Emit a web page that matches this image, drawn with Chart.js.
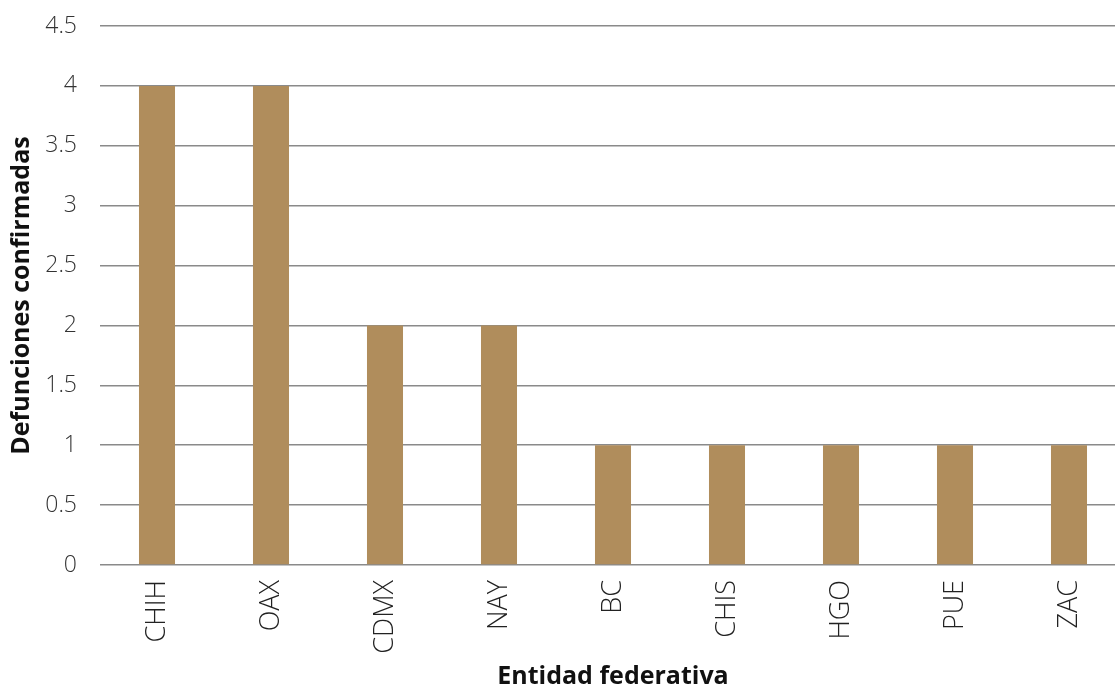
<!DOCTYPE html>
<html>
<head>
<meta charset="utf-8">
<script src="https://cdn.jsdelivr.net/npm/chart.js@4/dist/chart.umd.min.js"></script>
<style>
  html, body { margin: 0; padding: 0; background: #ffffff; overflow: hidden; }
  #wrap { width: 1126px; height: 689px; }
</style>
</head>
<body>
<div id="wrap"><canvas id="c" width="1126" height="689"></canvas></div>
<script>
const categories = ['CHIH', 'OAX', 'CDMX', 'NAY', 'BC', 'CHIS', 'HGO', 'PUE', 'ZAC'];
const deaths = [4, 4, 2, 2, 1, 1, 1, 1, 1];
const yTitle = 'Defunciones confirmadas';
const xTitle = 'Entidad federativa';

new Chart(document.getElementById('c'), {
  type: 'bar',
  data: {
    labels: categories,
    datasets: [{
      data: deaths,
      backgroundColor: '#b08d5c',
      borderWidth: 0,
      categoryPercentage: 1,
      barPercentage: 0.316
    }]
  },
  options: {
    responsive: false,
    animation: false,
    layout: { autoPadding: false, padding: { top: 26, left: 0, right: 0, bottom: 0 } },
    plugins: { legend: { display: false }, tooltip: { enabled: false } },
    scales: {
      x: {
        grid: { display: false, drawTicks: false },
        border: { display: false },
        ticks: {
          color: '#222',
          font: { family: 'Open Sans', size: 27, weight: '300' },
          minRotation: 90, maxRotation: 90, padding: 15, autoSkip: false
        },
        title: {
          display: true, text: xTitle, color: '#111',
          font: { family: 'Open Sans', size: 25, weight: 'bold' },
          padding: { top: 0, bottom: -3 }
        },
        afterFit: s => { s.height = 124; s.paddingLeft = 0; s.paddingRight = 0; }
      },
      y: {
        min: 0, max: 4.5,
        grid: { color: '#8a8a8a', lineWidth: 1.5, drawTicks: false },
        border: { display: false },
        ticks: {
          stepSize: 0.5, color: '#333', padding: 23,
          font: { family: 'Open Sans', size: 23, weight: '300' },
          callback: v => String(v)
        },
        title: {
          display: true, text: yTitle, color: '#111',
          font: { family: 'Open Sans', size: 25, weight: 'bold' },
          padding: { top: 7, bottom: 0 }
        },
        afterFit: s => { s.width = 100; s.paddingTop = 0; s.paddingBottom = 0; }
      }
    }
  }
});
</script>
</body>
</html>
